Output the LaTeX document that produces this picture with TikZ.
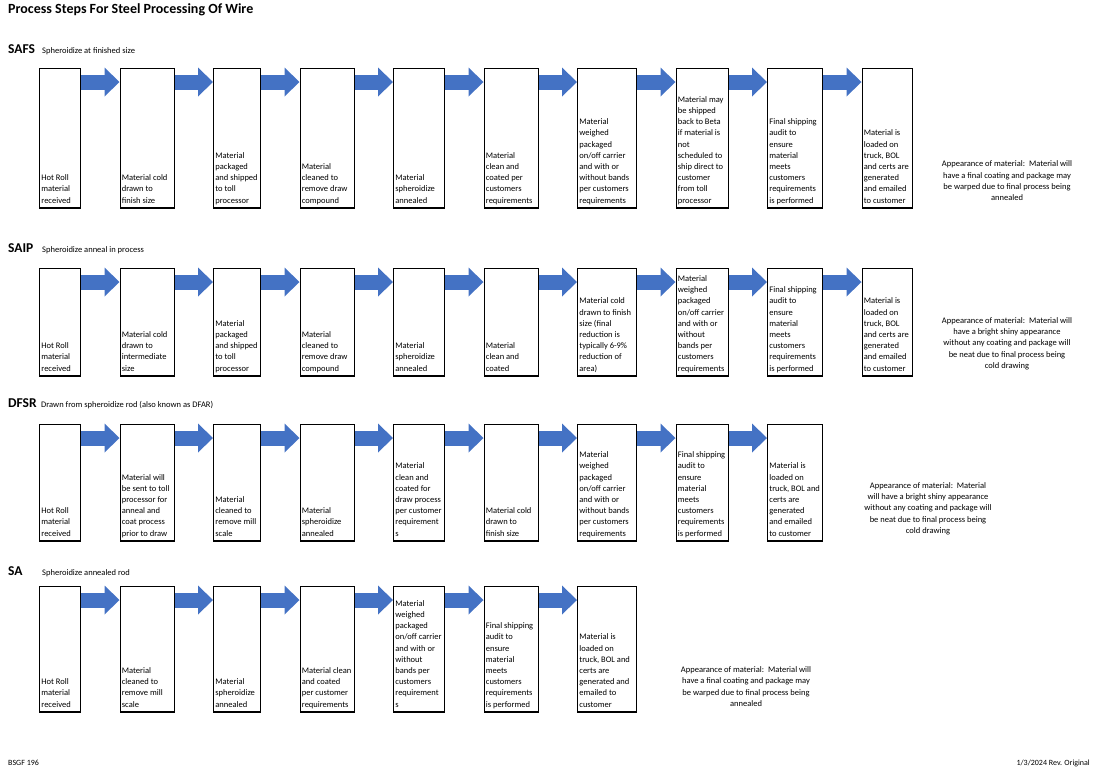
\documentclass[tikz,border=0pt]{standalone}
\usepackage{fontspec}
\setmainfont{Carlito}
\usetikzlibrary{arrows.meta, positioning}

\definecolor{flowblue}{HTML}{4472C4}

% text sits at the bottom left of each step box
\newcommand{\cell}[3]{\parbox[c][#2pt][b]{#1pt}{\raggedright #3\strut}}

\begin{document}
\begin{tikzpicture}[x=1pt, y=-1pt, node distance=38.3pt,
  stage/.style={draw, line width=1.2pt, rectangle, inner xsep=1.8pt, inner ysep=1.5pt, font=\fontsize{8.5}{11.2}\selectfont},
  flow/.style={draw=flowblue, line width=15pt, -{Triangle[length=15pt, width=29pt, line width=0pt]}},
  rowtag/.style={anchor=base west, inner sep=0pt, font=\bfseries\fontsize{13.5}{16}\selectfont},
  rowname/.style={anchor=base west, inner sep=0pt, font=\fontsize{8.5}{11}\selectfont},
  note/.style={align=center, font=\fontsize{8.5}{11.3}\selectfont},
  footer/.style={inner sep=0pt, font=\fontsize{8}{10}\selectfont}]

  \useasboundingbox (0,0) rectangle (1100,769);

  \node [anchor=base west, inner sep=0pt, font=\bfseries\fontsize{14}{17}\selectfont] (title) at (8,13.3) {Process Steps For Steel Processing Of Wire};

  % SAFS
  \node [rowtag] (safstag) at (8,53.3) {SAFS};
  \node [rowname] (safsname) at (42,53.3) {Spheroidize at finished size};
  \node [stage, anchor=north west] (safs1) at (39,68) {\cell{37.4}{133}{Hot Roll\\material\\received}};
  \node [stage, right=of safs1] (safs2) {\cell{50.4}{133}{Material cold\\drawn to\\finish size}};
  \node [stage, right=of safs2] (safs3) {\cell{43.4}{133}{Material\\packaged\\and shipped\\to toll\\processor}};
  \node [stage, right=of safs3] (safs4) {\cell{50.4}{133}{Material\\cleaned to\\remove draw\\compound}};
  \node [stage, right=of safs4] (safs5) {\cell{47.4}{133}{Material\\spheroidize\\annealed}};
  \node [stage, right=of safs5] (safs6) {\cell{50.4}{133}{Material\\clean and\\coated per\\customers\\requirements}};
  \node [stage, right=of safs6] (safs7) {\cell{55.4}{133}{Material\\weighed\\packaged\\on/off carrier\\and with or\\without bands\\per customers\\requirements}};
  \node [stage, right=of safs7] (safs8) {\cell{48.4}{133}{Material may\\be shipped\\back to Beta\\if material is\\not\\scheduled to\\ship direct to\\customer\\from toll\\processor}};
  \node [stage, right=of safs8] (safs9) {\cell{51.4}{133}{Final shipping\\audit to\\ensure\\material\\meets\\customers\\requirements\\is performed}};
  \node [stage, right=of safs9] (safs10) {\cell{46.4}{133}{Material is\\loaded on\\truck, BOL\\and certs are\\generated\\and emailed\\to customer}};
  \node [note] (safsnote) at (1007,181) {Appearance of material:\ \ Material will\\have a final coating and package may\\be warped due to final process being\\annealed};

  \draw [flow] ([yshift=-14pt]safs1.north east) -- ([yshift=-14pt]safs2.north west);
  \draw [flow] ([yshift=-14pt]safs2.north east) -- ([yshift=-14pt]safs3.north west);
  \draw [flow] ([yshift=-14pt]safs3.north east) -- ([yshift=-14pt]safs4.north west);
  \draw [flow] ([yshift=-14pt]safs4.north east) -- ([yshift=-14pt]safs5.north west);
  \draw [flow] ([yshift=-14pt]safs5.north east) -- ([yshift=-14pt]safs6.north west);
  \draw [flow] ([yshift=-14pt]safs6.north east) -- ([yshift=-14pt]safs7.north west);
  \draw [flow] ([yshift=-14pt]safs7.north east) -- ([yshift=-14pt]safs8.north west);
  \draw [flow] ([yshift=-14pt]safs8.north east) -- ([yshift=-14pt]safs9.north west);
  \draw [flow] ([yshift=-14pt]safs9.north east) -- ([yshift=-14pt]safs10.north west);

  % SAIP
  \node [rowtag] (saiptag) at (8,252.7) {SAIP};
  \node [rowname] (saipname) at (42,252.7) {Spheroidize anneal in process};
  \node [stage, anchor=north west] (saip1) at (39,268) {\cell{37.4}{101}{Hot Roll\\material\\received}};
  \node [stage, right=of saip1] (saip2) {\cell{50.4}{101}{Material cold\\drawn to\\intermediate\\size}};
  \node [stage, right=of saip2] (saip3) {\cell{43.4}{101}{Material\\packaged\\and shipped\\to toll\\processor}};
  \node [stage, right=of saip3] (saip4) {\cell{50.4}{101}{Material\\cleaned to\\remove draw\\compound}};
  \node [stage, right=of saip4] (saip5) {\cell{47.4}{101}{Material\\spheroidize\\annealed}};
  \node [stage, right=of saip5] (saip6) {\cell{50.4}{101}{Material\\clean and\\coated}};
  \node [stage, right=of saip6] (saip7) {\cell{55.4}{101}{Material cold\\drawn to finish\\size (final\\reduction is\\typically 6-9\%\\reduction of\\area)}};
  \node [stage, right=of saip7] (saip8) {\cell{48.4}{101}{Material\\weighed\\packaged\\on/off carrier\\and with or\\without\\bands per\\customers\\requirements}};
  \node [stage, right=of saip8] (saip9) {\cell{51.4}{101}{Final shipping\\audit to\\ensure\\material\\meets\\customers\\requirements\\is performed}};
  \node [stage, right=of saip9] (saip10) {\cell{46.4}{101}{Material is\\loaded on\\truck, BOL\\and certs are\\generated\\and emailed\\to customer}};
  \node [note] (saipnote) at (1007,343.5) {Appearance of material:\ \ Material will\\have a bright shiny appearance\\without any coating and package will\\be neat due to final process being\\cold drawing};

  \draw [flow] ([yshift=-14pt]saip1.north east) -- ([yshift=-14pt]saip2.north west);
  \draw [flow] ([yshift=-14pt]saip2.north east) -- ([yshift=-14pt]saip3.north west);
  \draw [flow] ([yshift=-14pt]saip3.north east) -- ([yshift=-14pt]saip4.north west);
  \draw [flow] ([yshift=-14pt]saip4.north east) -- ([yshift=-14pt]saip5.north west);
  \draw [flow] ([yshift=-14pt]saip5.north east) -- ([yshift=-14pt]saip6.north west);
  \draw [flow] ([yshift=-14pt]saip6.north east) -- ([yshift=-14pt]saip7.north west);
  \draw [flow] ([yshift=-14pt]saip7.north east) -- ([yshift=-14pt]saip8.north west);
  \draw [flow] ([yshift=-14pt]saip8.north east) -- ([yshift=-14pt]saip9.north west);
  \draw [flow] ([yshift=-14pt]saip9.north east) -- ([yshift=-14pt]saip10.north west);

  % DFSR
  \node [rowtag] (dfsrtag) at (8,407.7) {DFSR};
  \node [rowname] (dfsrname) at (41,407.7) {Drawn from spheroidize rod (also known as DFAR)};
  \node [stage, anchor=north west] (dfsr1) at (39,424) {\cell{37.4}{110}{Hot Roll\\material\\received}};
  \node [stage, right=of dfsr1] (dfsr2) {\cell{50.4}{110}{Material will\\be sent to toll\\processor for\\anneal and\\coat process\\prior to draw}};
  \node [stage, right=of dfsr2] (dfsr3) {\cell{43.4}{110}{Material\\cleaned to\\remove mill\\scale}};
  \node [stage, right=of dfsr3] (dfsr4) {\cell{50.4}{110}{Material\\spheroidize\\annealed}};
  \node [stage, right=of dfsr4] (dfsr5) {\cell{47.4}{110}{Material\\clean and\\coated for\\draw process\\per customer\\requirement\\s}};
  \node [stage, right=of dfsr5] (dfsr6) {\cell{50.4}{110}{Material cold\\drawn to\\finish size}};
  \node [stage, right=of dfsr6] (dfsr7) {\cell{55.4}{110}{Material\\weighed\\packaged\\on/off carrier\\and with or\\without bands\\per customers\\requirements}};
  \node [stage, right=of dfsr7] (dfsr8) {\cell{48.4}{110}{Final shipping\\audit to\\ensure\\material\\meets\\customers\\requirements\\is performed}};
  \node [stage, right=of dfsr8] (dfsr9) {\cell{51.4}{110}{Material is\\loaded on\\truck, BOL and\\certs are\\generated\\and emailed\\to customer}};
  \node [note] (dfsrnote) at (928,508.5) {Appearance of material:\ \ Material\\will have a bright shiny appearance\\without any coating and package will\\be neat due to final process being\\cold drawing};

  \draw [flow] ([yshift=-14pt]dfsr1.north east) -- ([yshift=-14pt]dfsr2.north west);
  \draw [flow] ([yshift=-14pt]dfsr2.north east) -- ([yshift=-14pt]dfsr3.north west);
  \draw [flow] ([yshift=-14pt]dfsr3.north east) -- ([yshift=-14pt]dfsr4.north west);
  \draw [flow] ([yshift=-14pt]dfsr4.north east) -- ([yshift=-14pt]dfsr5.north west);
  \draw [flow] ([yshift=-14pt]dfsr5.north east) -- ([yshift=-14pt]dfsr6.north west);
  \draw [flow] ([yshift=-14pt]dfsr6.north east) -- ([yshift=-14pt]dfsr7.north west);
  \draw [flow] ([yshift=-14pt]dfsr7.north east) -- ([yshift=-14pt]dfsr8.north west);
  \draw [flow] ([yshift=-14pt]dfsr8.north east) -- ([yshift=-14pt]dfsr9.north west);

  % SA
  \node [rowtag] (satag) at (8,575) {SA};
  \node [rowname] (saname) at (42,575) {Spheroidize annealed rod};
  \node [stage, anchor=north west] (sa1) at (39,586) {\cell{37.4}{119}{Hot Roll\\material\\received}};
  \node [stage, right=of sa1] (sa2) {\cell{50.4}{119}{Material\\cleaned to\\remove mill\\scale}};
  \node [stage, right=of sa2] (sa3) {\cell{43.4}{119}{Material\\spheroidize\\annealed}};
  \node [stage, right=of sa3] (sa4) {\cell{50.4}{119}{Material clean\\and coated\\per customer\\requirements}};
  \node [stage, right=of sa4] (sa5) {\cell{47.4}{119}{Material\\weighed\\packaged\\on/off carrier\\and with or\\without\\bands per\\customers\\requirement\\s}};
  \node [stage, right=of sa5] (sa6) {\cell{50.4}{119}{Final shipping\\audit to\\ensure\\material\\meets\\customers\\requirements\\is performed}};
  \node [stage, right=of sa6] (sa7) {\cell{55.4}{119}{Material is\\loaded on\\truck, BOL and\\certs are\\generated and\\emailed to\\customer}};
  \node [note] (sanote) at (746,686.5) {Appearance of material:\ \ Material will\\have a final coating and package may\\be warped due to final process being\\annealed};

  \draw [flow] ([yshift=-14pt]sa1.north east) -- ([yshift=-14pt]sa2.north west);
  \draw [flow] ([yshift=-14pt]sa2.north east) -- ([yshift=-14pt]sa3.north west);
  \draw [flow] ([yshift=-14pt]sa3.north east) -- ([yshift=-14pt]sa4.north west);
  \draw [flow] ([yshift=-14pt]sa4.north east) -- ([yshift=-14pt]sa5.north west);
  \draw [flow] ([yshift=-14pt]sa5.north east) -- ([yshift=-14pt]sa6.north west);
  \draw [flow] ([yshift=-14pt]sa6.north east) -- ([yshift=-14pt]sa7.north west);

  \node [footer, anchor=base west] (formno) at (8,765) {BSGF 196};
  \node [footer, anchor=base east] (revision) at (1090,765) {1/3/2024 Rev. Original};
\end{tikzpicture}
\end{document}
